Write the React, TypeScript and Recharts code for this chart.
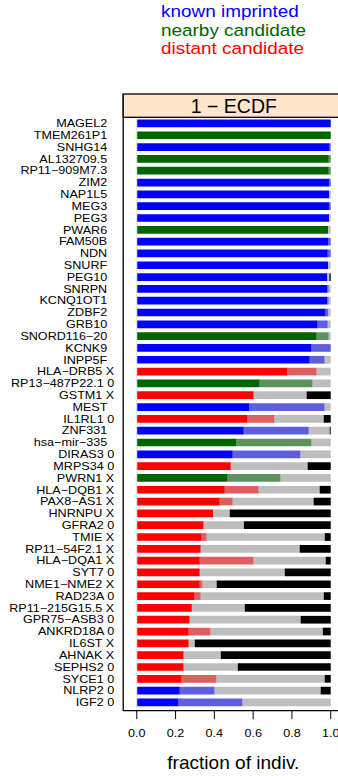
import React from 'react';
import { BarChart, Bar, XAxis, YAxis, Cell, ReferenceLine } from 'recharts';

const FONT = '"Liberation Sans", Arial, Helvetica, sans-serif';

// Genes, top to bottom
const genes = [
  'MAGEL2', 'TMEM261P1', 'SNHG14', 'AL132709.5', 'RP11−909M7.3', 'ZIM2', 'NAP1L5', 'MEG3', 'PEG3', 'PWAR6',
  'FAM50B', 'NDN', 'SNURF', 'PEG10', 'SNRPN', 'KCNQ1OT1', 'ZDBF2', 'GRB10', 'SNORD116−20', 'KCNK9',
  'INPP5F', 'HLA−DRB5', 'RP13−487P22.1', 'GSTM1', 'MEST', 'IL1RL1', 'ZNF331', 'hsa−mir−335', 'DIRAS3', 'MRPS34',
  'PWRN1', 'HLA−DQB1', 'PAX8−AS1', 'HNRNPU', 'GFRA2', 'TMIE', 'RP11−54F2.1', 'HLA−DQA1', 'SYT7', 'NME1−NME2',
  'RAD23A', 'RP11−215G15.5', 'GPR75−ASB3', 'ANKRD18A', 'IL6ST', 'AHNAK', 'SEPHS2', 'SYCE1', 'NLRP2', 'IGF2',
];

// Chromosome flag printed after the gene name ('' = none)
const flags = [
  '', '', '', '', '', '', '', '', '', '',
  '', '', '', '', '', '', '', '', '', '',
  '', 'X', '0', 'X', '', '0', '', '', '0', '0',
  'X', 'X', 'X', 'X', '0', 'X', 'X', 'X', '0', 'X',
  '0', 'X', '0', '0', 'X', 'X', '0', '0', '0', '0',
];

// K = known imprinted, N = nearby candidate, D = distant candidate
const groups = [
  'K', 'N', 'K', 'N', 'N', 'K', 'K', 'K', 'K', 'N',
  'K', 'K', 'K', 'K', 'K', 'K', 'K', 'K', 'N', 'K',
  'K', 'D', 'N', 'D', 'K', 'D', 'K', 'N', 'K', 'D',
  'N', 'D', 'D', 'D', 'D', 'D', 'D', 'D', 'D', 'D',
  'D', 'D', 'D', 'D', 'D', 'D', 'D', 'D', 'K', 'K',
];

// Fraction of individuals in each class (segments add up to 1)
const strongShare = [
  1.0, 1.0, 0.995, 0.99, 0.99, 0.991, 0.993, 0.991, 0.991, 0.986,
  0.986, 0.985, 0.986, 0.981, 0.981, 0.981, 0.974, 0.933, 0.928, 0.902,
  0.892, 0.778, 0.634, 0.603, 0.582, 0.572, 0.552, 0.515, 0.495, 0.485,
  0.469, 0.454, 0.428, 0.395, 0.345, 0.335, 0.33, 0.325, 0.325, 0.325,
  0.299, 0.284, 0.273, 0.268, 0.268, 0.242, 0.242, 0.232, 0.222, 0.216,
];
const weakShare = [
  0, 0, 0.005, 0.01, 0.01, 0.009, 0, 0.009, 0, 0,
  0.014, 0.015, 0, 0.003, 0.009, 0.009, 0.014, 0.052, 0.062, 0.098,
  0.077, 0.15, 0.273, 0, 0.387, 0.139, 0.335, 0.387, 0.35, 0,
  0.273, 0.175, 0.067, 0, 0, 0.026, 0, 0.278, 0, 0.015,
  0.031, 0, 0, 0.113, 0, 0, 0, 0.18, 0.18, 0.33,
];
const grayShare = [
  0, 0, 0, 0, 0, 0, 0.007, 0, 0.009, 0.014,
  0, 0, 0.014, 0.009, 0.01, 0.01, 0.012, 0.015, 0.01, 0,
  0.031, 0.072, 0.093, 0.273, 0.031, 0.253, 0.108, 0.098, 0.155, 0.396,
  0.258, 0.314, 0.417, 0.084, 0.207, 0.608, 0.51, 0.371, 0.438, 0.072,
  0.634, 0.273, 0.572, 0.578, 0.031, 0.191, 0.279, 0.557, 0.546, 0.454,
];
const blackShare = [
  0, 0, 0, 0, 0, 0, 0, 0, 0, 0,
  0, 0, 0, 0.007, 0, 0, 0, 0, 0, 0,
  0, 0, 0, 0.124, 0, 0.036, 0.005, 0, 0, 0.119,
  0, 0.057, 0.088, 0.521, 0.448, 0.031, 0.16, 0.026, 0.237, 0.588,
  0.036, 0.443, 0.155, 0.041, 0.701, 0.567, 0.479, 0.031, 0.052, 0,
];

const xTicks = [0, 0.2, 0.4, 0.6, 0.8, 1.0];

const legendItems = [
  { label: 'known imprinted', color: '#0000FF' },
  { label: 'nearby candidate', color: '#006400' },
  { label: 'distant candidate', color: '#FF0000' },
];

const strongColor: Record<string, string> = { K: '#0000FF', N: '#006400', D: '#FF0000' };
const weakColor: Record<string, string> = { K: '#5F5FDE', N: '#5F915F', D: '#DE5F5F' };

const rows = genes.map((g, i) => ({
  label: flags[i] ? `${g} ${flags[i]}` : `${g}  `,
  group: groups[i],
  strong: strongShare[i],
  weak: weakShare[i],
  gray: grayShare[i],
  black: blackShare[i],
}));

const GeneTick = (props: any) => {
  const { x, y, payload } = props;
  return (
    <text
      transform={`translate(${x},${y}) scale(1.2,1)`}
      x={0}
      y={3.7}
      textAnchor="end"
      fontSize={10.5}
      fontFamily={FONT}
      fill="#000"
      style={{ whiteSpace: 'pre' }}
    >
      {payload.value}
    </text>
  );
};

const FractionTick = (props: any) => {
  const { x, y, payload } = props;
  return (
    <text
      transform={`translate(${x},${y}) scale(1.2,1)`}
      x={0}
      y={17.5}
      textAnchor="middle"
      fontSize={10.5}
      fontFamily={FONT}
      fill="#000"
    >
      {Number(payload.value).toFixed(1)}
    </text>
  );
};

export default function App() {
  return (
    <div
      style={{
        position: 'absolute',
        left: 0,
        top: 0,
        width: 338,
        height: 776,
        overflow: 'hidden',
        background: '#fff',
      }}
    >
      <div style={{ position: 'absolute', left: 0, top: 0 }}>
        <BarChart
          width={360}
          height={776}
          layout="vertical"
          data={rows}
          margin={{ top: 84.7, right: 15.7, bottom: 0, left: 0 }}
          barSize={7.7}
        >
          <XAxis
            xAxisId="top"
            orientation="top"
            type="number"
            domain={[-0.07, 1.07]}
            ticks={xTicks}
            height={9.3}
            tickSize={9.3}
            tick={false}
            axisLine={false}
            tickLine={{ stroke: '#000', strokeWidth: 1 }}
          />
          <XAxis
            xAxisId="bottom"
            orientation="bottom"
            type="number"
            domain={[-0.07, 1.07]}
            ticks={xTicks}
            height={65.3}
            tickSize={8.5}
            tickMargin={0}
            axisLine={{ stroke: '#000', strokeWidth: 1.3 }}
            tickLine={{ stroke: '#000', strokeWidth: 1 }}
            tick={<FractionTick />}
          />
          <YAxis
            type="category"
            dataKey="label"
            width={123.2}
            interval={0}
            tickSize={0}
            tickMargin={9}
            tickLine={false}
            axisLine={{ stroke: '#000', strokeWidth: 1.3 }}
            padding={{ top: 23.6, bottom: 2.3 }}
            tick={<GeneTick />}
          />
          <ReferenceLine xAxisId="bottom" x={0} stroke="#E5E5E5" strokeWidth={1} />
          <Bar xAxisId="bottom" dataKey="strong" stackId="s" isAnimationActive={false}>
            {rows.map((r, i) => (
              <Cell key={`s${i}`} fill={strongColor[r.group]} />
            ))}
          </Bar>
          <Bar xAxisId="bottom" dataKey="weak" stackId="s" isAnimationActive={false}>
            {rows.map((r, i) => (
              <Cell key={`w${i}`} fill={weakColor[r.group]} />
            ))}
          </Bar>
          <Bar xAxisId="bottom" dataKey="gray" stackId="s" fill="#BEBEBE" isAnimationActive={false} />
          <Bar xAxisId="bottom" dataKey="black" stackId="s" fill="#000000" isAnimationActive={false} />
        </BarChart>
      </div>
      <svg
        width={338}
        height={776}
        style={{ position: 'absolute', left: 0, top: 0, pointerEvents: 'none' }}
      >
        {legendItems.map((item, i) => (
          <text
            key={item.label}
            transform={`translate(161,${17.3 + i * 18.5}) scale(1.1,1)`}
            x={0}
            y={0}
            fontSize={17.2}
            fontFamily={FONT}
            fill={item.color}
          >
            {item.label}
          </text>
        ))}
        <rect x={123.2} y={94} width={221.1} height={23.3} fill="#FFE5CC" stroke="#000" strokeWidth={1.3} />
        <text x={233.8} y={113.3} textAnchor="middle" fontSize={19.5} fontFamily={FONT} fill="#000">
          1 − ECDF
        </text>
        <text
          transform="translate(233.3,769.3) scale(1.06,1)"
          x={0}
          y={0}
          textAnchor="middle"
          fontSize={18}
          fontFamily={FONT}
          fill="#000"
        >
          fraction of indiv.
        </text>
      </svg>
    </div>
  );
}
